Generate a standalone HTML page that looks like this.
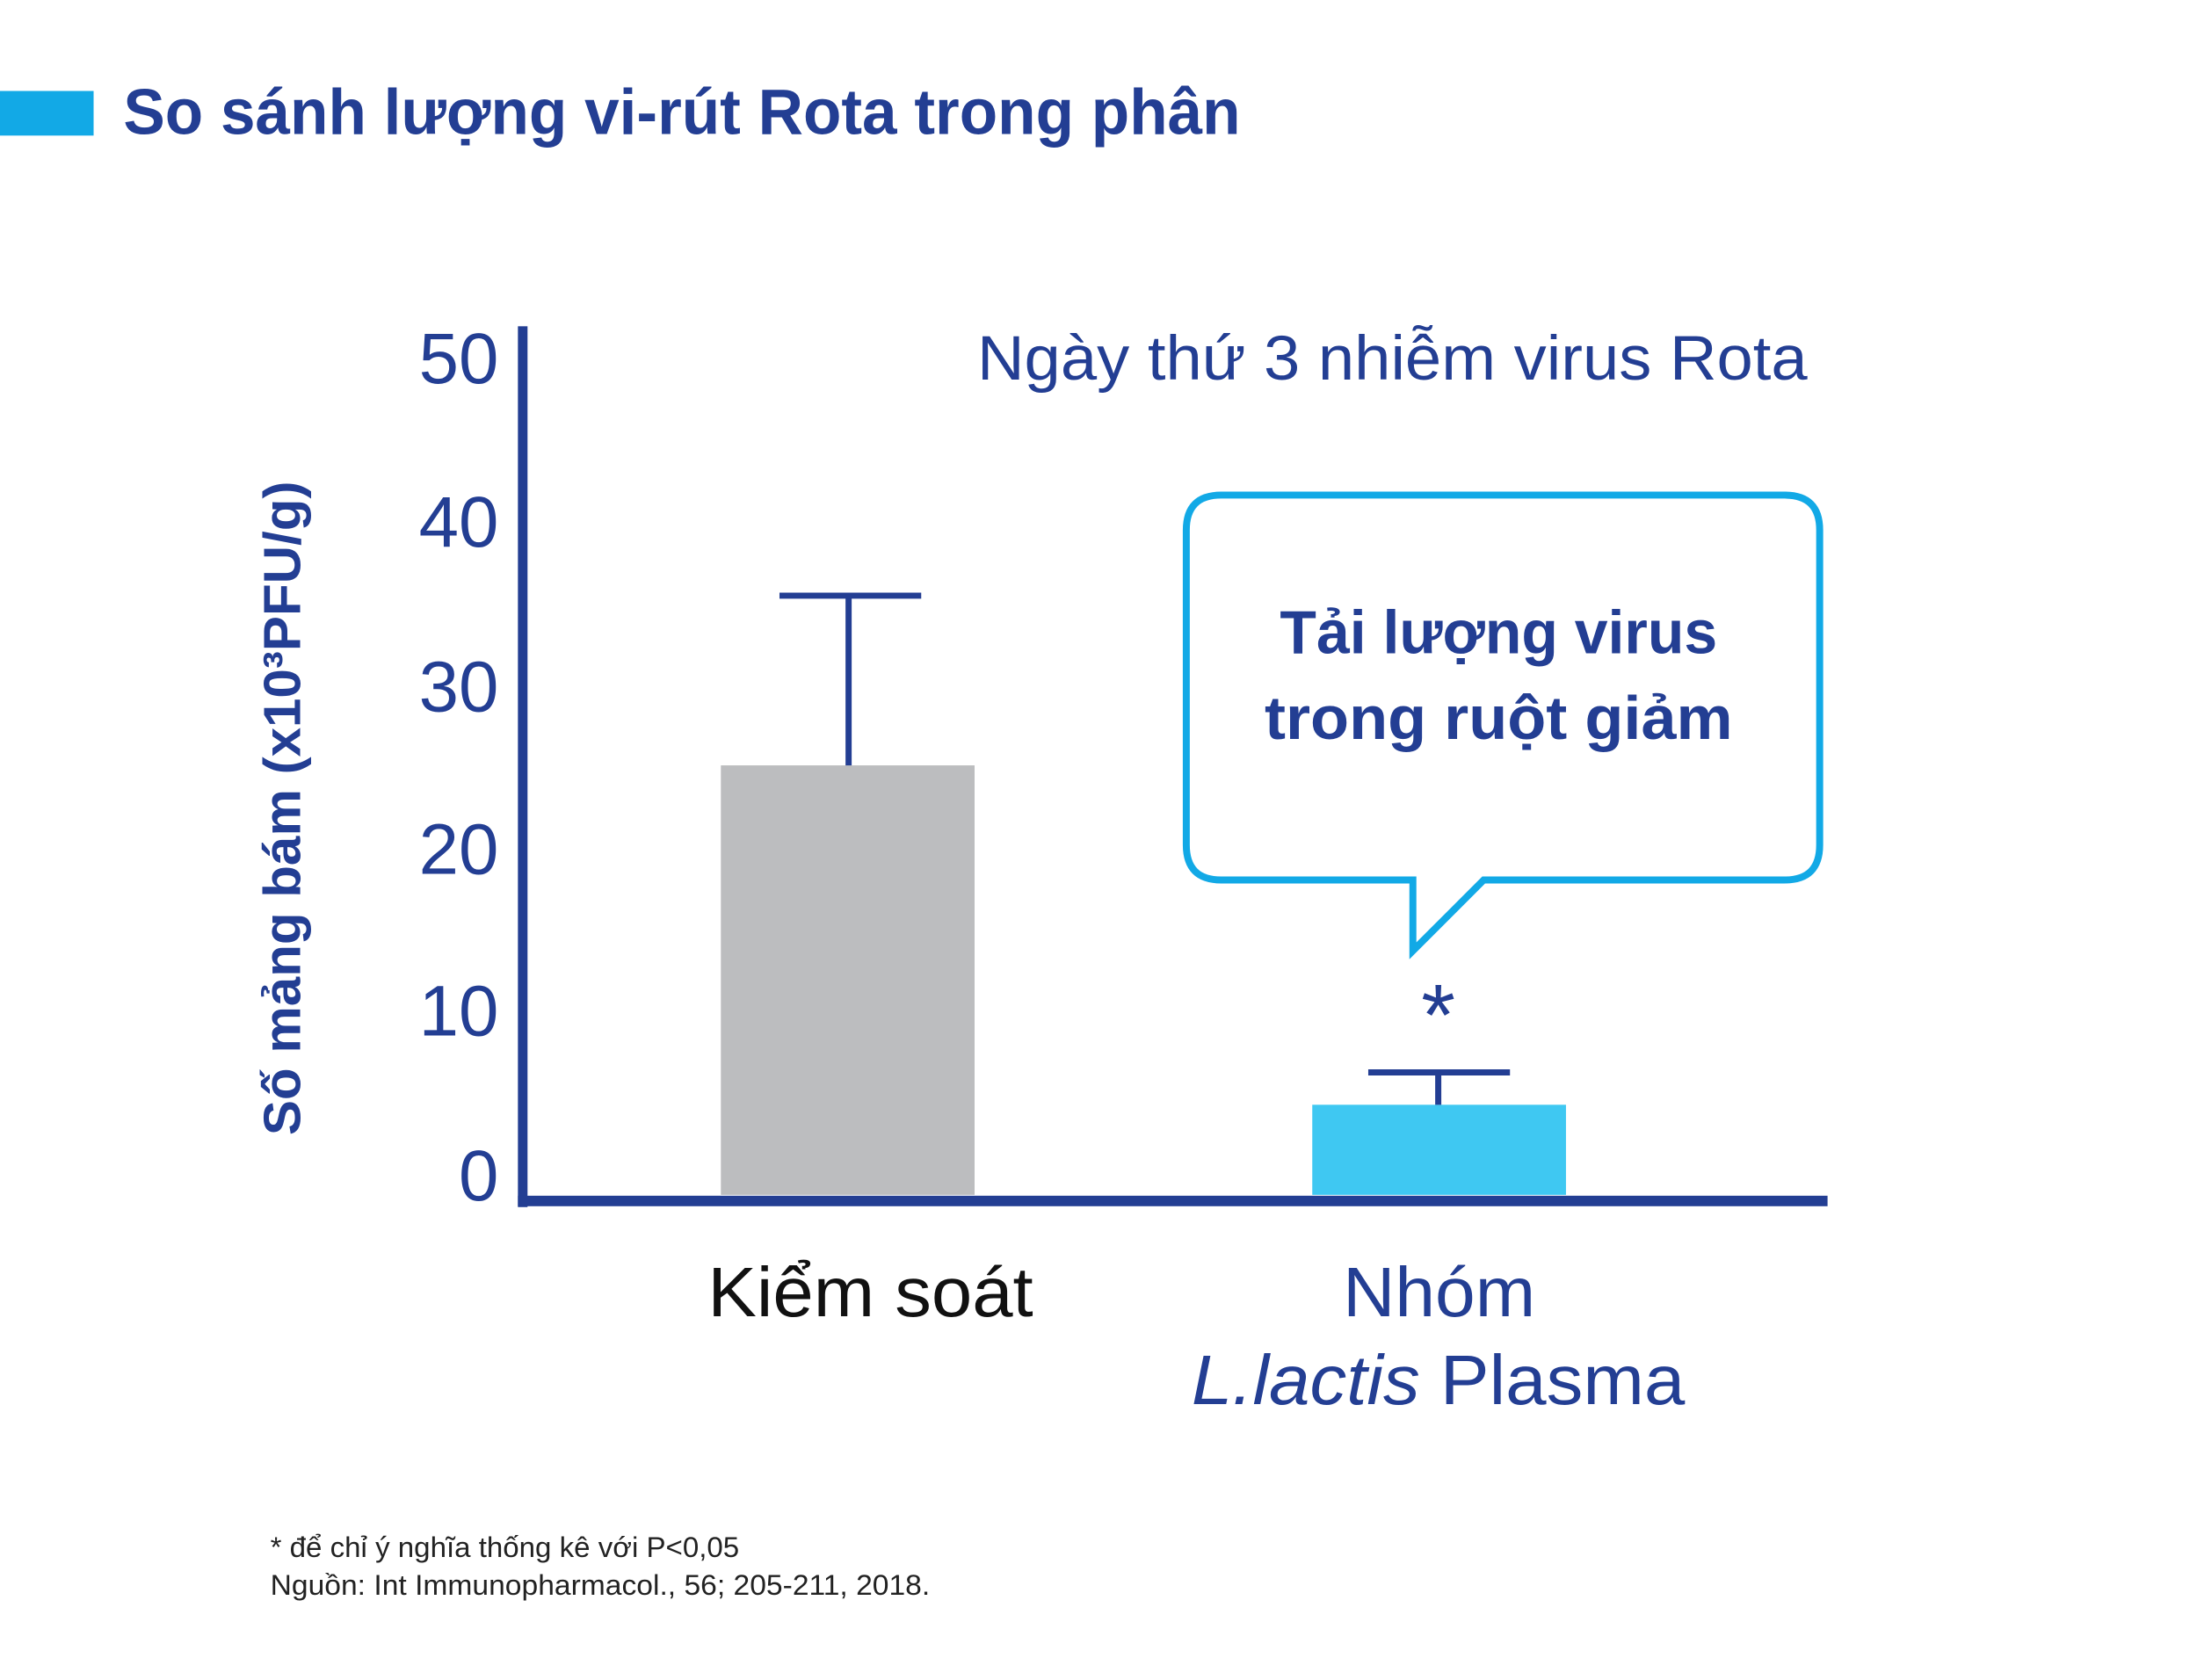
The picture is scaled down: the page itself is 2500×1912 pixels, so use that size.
<!DOCTYPE html>
<html><head><meta charset="utf-8"><style>
html,body{margin:0;padding:0;background:#fff;width:2500px;height:1912px;overflow:hidden}
svg{display:block}
text{font-family:"Liberation Sans","DejaVu Sans",sans-serif}
</style></head><body>
<svg width="2500" height="1912" viewBox="0 0 2500 1912" xmlns="http://www.w3.org/2000/svg">
<g transform="scale(0.9955)">
<rect x="0" y="104" width="107" height="51" fill="#12a9e6"/>
<text x="141" y="153" font-size="74" font-weight="bold" fill="#233e93" textLength="1277" lengthAdjust="spacingAndGlyphs">So sánh lượng vi-rút Rota trong phân</text>

<text x="1117" y="434" font-size="72" fill="#233e93" textLength="949" lengthAdjust="spacingAndGlyphs">Ngày thứ 3 nhiễm virus Rota</text>

<g font-size="82" fill="#233e93" text-anchor="end">
<text x="570" y="438">50</text>
<text x="570" y="625">40</text>
<text x="570" y="813">30</text>
<text x="570" y="999">20</text>
<text x="570" y="1184">10</text>
<text x="570" y="1372">0</text>
</g>

<text transform="translate(343,924) rotate(-90)" font-size="60" font-weight="bold" fill="#233e93" text-anchor="middle" textLength="748" lengthAdjust="spacingAndGlyphs">Số mảng bám (x10³PFU/g)</text>

<rect x="824" y="875" width="290" height="491" fill="#bcbdbf"/>
<rect x="1500" y="1263" width="290" height="103" fill="#3fc8f2"/>

<g stroke="#233e93" stroke-width="7" fill="none">
<line x1="970" y1="681" x2="970" y2="875"/>
<line x1="891" y1="681" x2="1053" y2="681"/>
<line x1="1644" y1="1226" x2="1644" y2="1263"/>
<line x1="1564" y1="1226" x2="1726" y2="1226"/>
</g>
<rect x="592" y="373" width="11" height="1007" fill="#233e93"/>
<rect x="592" y="1367" width="1497" height="12" fill="#233e93"/>

<text x="1644" y="1195" font-size="100" fill="#233e93" text-anchor="middle">*</text>

<path d="M1396 566 H2040 Q2080 566 2080 606 V966 Q2080 1006 2040 1006 H1696 L1615 1087 V1006 H1396 Q1356 1006 1356 966 V606 Q1356 566 1396 566 Z" fill="#fff" stroke="#12a9e6" stroke-width="8" stroke-linejoin="miter"/>
<text x="1713" y="747" font-size="70" font-weight="bold" fill="#233e93" text-anchor="middle" textLength="500" lengthAdjust="spacingAndGlyphs">Tải lượng virus</text>
<text x="1713" y="845" font-size="70" font-weight="bold" fill="#233e93" text-anchor="middle" textLength="535" lengthAdjust="spacingAndGlyphs">trong ruột giảm</text>

<text x="809" y="1505" font-size="80" fill="#111" textLength="372" lengthAdjust="spacingAndGlyphs">Kiểm soát</text>
<text x="1535" y="1505" font-size="80" fill="#233e93" textLength="220" lengthAdjust="spacingAndGlyphs">Nhóm</text>
<text x="1362" y="1605" font-size="80" fill="#233e93" textLength="564" lengthAdjust="spacingAndGlyphs"><tspan font-style="italic">L.lactis</tspan> Plasma</text>

<text x="309" y="1780" font-size="33" fill="#222" textLength="536" lengthAdjust="spacingAndGlyphs">* để chỉ ý nghĩa thống kê với P&lt;0,05</text>
<text x="309" y="1823" font-size="33" fill="#222" textLength="754" lengthAdjust="spacingAndGlyphs">Nguồn: Int Immunopharmacol., 56; 205-211, 2018.</text>
</g>
</svg>
</body></html>
